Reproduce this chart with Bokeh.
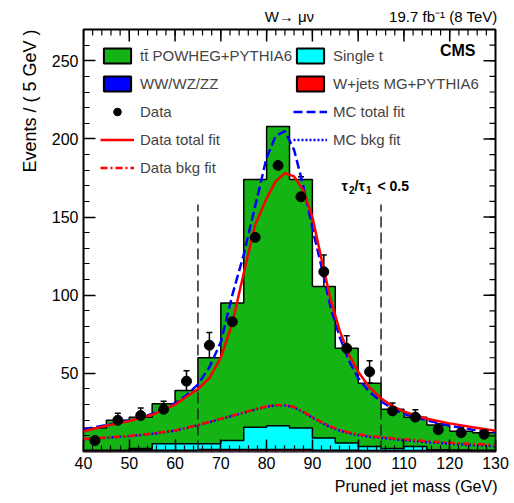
from bokeh.plotting import figure
from bokeh.models import (Range1d, FixedTicker, Label, Legend, LegendItem, Title,
                          Whisker, TeeHead, ColumnDataSource)
from bokeh.embed import file_html
from bokeh.resources import INLINE

# ---------------- data ----------------
bin_edges = [40, 45, 50, 55, 60, 65, 70, 75, 80, 85, 90, 95, 100, 105, 110, 115, 120, 125, 130]
wjets      = [0.3, 0.3, 0.5, 0.5, 0.5, 1.0, 1.0, 1.0, 1.0, 1.0, 0.5, 0.5, 0.5, 0.5, 0.5, 0.3, 0.3, 0.3]
diboson    = [0.2, 0.2, 1.0, 0.3, 0.3, 0.3, 0.3, 0.3, 0.3, 0.3, 0.3, 0.3, 0.2, 0.2, 0.2, 0.2, 0.2, 0.2]
single_top = [0.3, 0.3, 0.5, 4.2, 4.2, 3.7, 5.7, 14.2, 15.2, 13.7, 7.9, 4.7, 2.5, 1.3, 2.5, 0.7, 0.5, 0.3]
ttbar      = [14.2, 19.2, 20.0, 25.5, 34.0, 55.0, 88.0, 158.5, 191.5, 159.0, 96.8, 60.5, 40.4, 25.0, 18.8, 15.8, 12.0, 11.2]

data_counts = [7, 20, 23, 27, 45, 68, 83, 137, 183, 163, 115, 66, 51, 26, 22, 14, 12, 11]
data_errors = [2.6, 4.5, 4.8, 5.2, 6.7, 8.2, 9.1, 11.7, 13.5, 12.8, 10.7, 8.1, 7.1, 5.1, 4.7, 3.7, 3.5, 3.3]

fit_x          = [40, 45, 50, 55, 60, 62.5, 65, 67.5, 70, 72.5, 75, 77.5, 80, 82, 84, 86, 88, 90, 92, 94, 96, 98, 100, 102.5, 105, 107.5, 110, 115, 120, 125, 130]
data_total_fit = [13, 16.5, 19.5, 23.5, 30, 35, 40, 47, 60, 82, 114, 145, 162, 173, 178, 176, 167, 150, 123, 97, 77, 62, 51, 41, 34, 29, 25.5, 21, 18, 15.5, 13.3]
mc_total_fit   = [14, 17, 20, 24, 31, 36, 43, 54, 70, 100, 126, 157, 188, 202, 205, 193, 170, 143, 118, 92, 73, 58, 47, 38, 32, 27.5, 24, 20, 16.5, 14, 12.3]

bkg_x        = [40, 45, 50, 55, 60, 65, 70, 75, 78, 80, 82, 84, 86, 88, 90, 92, 94, 96, 98, 100, 102.5, 105, 110, 115, 120, 125, 130]
data_bkg_fit = [8, 9, 10, 11.5, 13.5, 17, 21, 25, 27.5, 28.8, 29.8, 29.8, 28.5, 25.5, 22, 18.8, 16, 13.8, 12.2, 11, 10, 9.3, 7.8, 6.6, 5.6, 4.8, 4.1]
mc_bkg_fit   = [7.8, 8.8, 9.8, 11.3, 13.3, 16.8, 20.8, 24.8, 27.3, 28.6, 29.5, 29.5, 28.2, 25.2, 21.6, 18.4, 15.6, 13.3, 11.7, 10.5, 9.4, 8.7, 7.2, 6.0, 5.0, 4.1, 3.3]

window_edges = [65, 105]
window_top = 158

x_ticks = [40, 50, 60, 70, 80, 90, 100, 110, 120, 130]
y_ticks = [50, 100, 150, 200, 250]
x_minor = list(range(40, 131, 2))
y_minor = list(range(10, 271, 10))
X_MIN, X_MAX, Y_MIN, Y_MAX = 40, 130, 0.01, 270

GREEN = "#14b414"
CYAN = "#00ffff"
BLUE = "#0000ff"
RED = "#ff0000"
FONT = "Liberation Sans"
NAN = float("nan")

# ---------------- geometry (page px) ----------------
FL, FR, FT, FB = 83, 495, 28, 451
W, H = 514, 503
FW, FH = FR - FL, FB - FT
PX_X = FW / (X_MAX - X_MIN)
PX_Y = FH / (Y_MAX - Y_MIN)

p = figure(width=W, height=H, x_range=Range1d(X_MIN, X_MAX), y_range=Range1d(Y_MIN, Y_MAX),
           output_backend="svg", toolbar_location=None,
           min_border_left=FL, min_border_right=W - FR,
           min_border_top=FT, min_border_bottom=H - FB)
p.xgrid.visible = False
p.ygrid.visible = False
p.outline_line_color = "black"
p.outline_line_width = 2
p.background_fill_color = "white"
p.border_fill_color = "white"

TICK_MAJ, TICK_MIN = 12, 6


def style_axis(ax, ticks, minor):
    ax.ticker = FixedTicker(ticks=ticks, minor_ticks=minor)
    ax.axis_line_color = None
    ax.major_tick_in = TICK_MAJ
    ax.major_tick_out = 0
    ax.minor_tick_in = TICK_MIN
    ax.minor_tick_out = 0
    ax.major_tick_line_width = 1.5
    ax.minor_tick_line_width = 1.2
    ax.major_tick_line_color = "black"
    ax.minor_tick_line_color = "black"
    ax.major_label_text_font = FONT
    ax.major_label_text_color = "black"
    ax.major_label_text_font_size = "16px"
    ax.major_label_standoff = 5


style_axis(p.xaxis[0], x_ticks, x_minor)
style_axis(p.yaxis[0], y_ticks, y_minor)


def steps(edges, vals):
    xs, ys = [], []
    for i, v in enumerate(vals):
        xs += [edges[i], edges[i + 1]]
        ys += [v, v]
    return xs, ys


n = len(ttbar)
lvl1 = [wjets[i] for i in range(n)]
lvl2 = [lvl1[i] + diboson[i] for i in range(n)]
lvl3 = [lvl2[i] + single_top[i] for i in range(n)]
lvl4 = [lvl3[i] + ttbar[i] for i in range(n)]

for lvl, col in [(lvl4, GREEN), (lvl3, CYAN), (lvl2, BLUE), (lvl1, RED)]:
    xs, ys = steps(bin_edges, lvl)
    p.varea(x=xs, y1=[0] * len(xs), y2=ys, fill_color=col)
    p.line(x=[xs[0]] + xs + [xs[-1]], y=[0] + ys + [0], line_color="black", line_width=1.5)

# mirrored ticks on top and right edges (inside the frame)
p.segment(x0=x_ticks, x1=x_ticks, y0=[Y_MAX] * len(x_ticks),
          y1=[Y_MAX - TICK_MAJ / PX_Y] * len(x_ticks), line_color="black", line_width=1.5)
p.segment(x0=x_minor, x1=x_minor, y0=[Y_MAX] * len(x_minor),
          y1=[Y_MAX - TICK_MIN / PX_Y] * len(x_minor), line_color="black", line_width=1.2)
p.segment(x0=[X_MAX] * len(y_ticks), x1=[X_MAX - TICK_MAJ / PX_X] * len(y_ticks),
          y0=y_ticks, y1=y_ticks, line_color="black", line_width=1.5)
p.segment(x0=[X_MAX] * len(y_minor), x1=[X_MAX - TICK_MIN / PX_X] * len(y_minor),
          y0=y_minor, y1=y_minor, line_color="black", line_width=1.2)

# cut window lines
for xe in window_edges:
    p.line(x=[xe, xe], y=[0, window_top], line_color="#222222", line_width=1.5, line_dash="11 5")

# fits
r_mc_bkg = p.line(bkg_x, mc_bkg_fit, line_color=BLUE, line_width=2.5, line_dash="2 2")
r_data_bkg = p.line(bkg_x, data_bkg_fit, line_color=RED, line_width=2.5, line_dash="7 3 2 3")
r_mc_tot = p.line(fit_x, mc_total_fit, line_color=BLUE, line_width=2.5, line_dash="9 4")
r_data_tot = p.line(fit_x, data_total_fit, line_color=RED, line_width=2.5)

# data
centers = [(bin_edges[i] + bin_edges[i + 1]) / 2 for i in range(n)]
src = ColumnDataSource(dict(x=centers, y=data_counts,
                            upper=[data_counts[i] + data_errors[i] for i in range(n)],
                            lower=[data_counts[i] - data_errors[i] for i in range(n)]))
p.add_layout(Whisker(source=src, base="x", upper="upper", lower="lower", dimension="height",
                     line_color="black", line_width=1.5,
                     upper_head=TeeHead(size=6, line_width=1.5, line_color="black"),
                     lower_head=TeeHead(size=6, line_width=1.5, line_color="black")))
r_data = p.scatter("x", "y", source=src, size=10, color="black")


# legend proxies (one NaN row each: nothing drawn in the plot, box drawn in the legend)
def proxy(col):
    return p.quad(left=[NAN], right=[NAN], top=[NAN], bottom=[NAN],
                  fill_color=col, line_color="black", line_width=2)


r_tt, r_st, r_vv, r_wj = proxy(GREEN), proxy(CYAN), proxy(BLUE), proxy(RED)

ROW_H, ROW_GAP, LEG_TOP = 20, 8, 45


def make_legend(items, left_px):
    rows = len(items)
    bottom_px = LEG_TOP + rows * ROW_H + (rows - 1) * ROW_GAP
    lg = Legend(items=[LegendItem(label=t, renderers=[r]) for t, r in items],
                location=(left_px - FL, FB - bottom_px),
                orientation="vertical", glyph_width=34, glyph_height=19, label_standoff=6,
                spacing=ROW_GAP, padding=0, margin=0, border_line_color=None, background_fill_alpha=0,
                label_text_font=FONT, label_text_font_size="15px", label_height=ROW_H,
                label_text_baseline="middle")
    p.add_layout(lg)


make_legend([("tt\u0304 POWHEG+PYTHIA6", r_tt), ("WW/WZ/ZZ", r_vv), ("Data", r_data),
             ("Data total fit", r_data_tot), ("Data bkg fit", r_data_bkg)], 100)
make_legend([("Single t", r_st), ("W+jets MG+PYTHIA6", r_wj), ("MC total fit", r_mc_tot),
             ("MC bkg fit", r_mc_bkg)], 293)


def put(txt, px, py, size, align="left", bold=False, baseline="middle"):
    p.add_layout(Label(x=px - FL, y=FB - py, x_units="screen", y_units="screen", text=txt,
                       text_font=FONT, text_font_size=f"{size}px",
                       text_font_style="bold" if bold else "normal",
                       text_align=align, text_baseline=baseline, text_color="black"))


put("CMS", 475, 50, 16, align="right", bold=True)

# tau2/tau1 < 0.5 with real subscripts
TB, SB = 185, 189
put("\u03c4", 341, TB, 14, bold=True, baseline="alphabetic")
put("2", 348.5, SB, 10, bold=True, baseline="alphabetic")
put("/", 354, TB, 14, bold=True, baseline="alphabetic")
put("\u03c4", 358, TB, 14, bold=True, baseline="alphabetic")
put("1", 365.5, SB, 10, bold=True, baseline="alphabetic")
put("< 0.5", 377, TB, 14, bold=True, baseline="alphabetic")

# texts outside the frame, as side-panel titles
p.add_layout(Title(text="W\u2192 \u03bc\u03bd" + "\u2003" * 5 + "19.7 fb\u207b\u00b9 (8 TeV)",
                   align="right", offset=-2, standoff=10, text_font=FONT, text_font_size="15px",
                   text_font_style="normal", text_color="black"), "above")
p.add_layout(Title(text="Pruned jet mass (GeV)", align="right", offset=-2, standoff=9,
                   text_font=FONT, text_font_size="16px", text_font_style="normal",
                   text_color="black"), "below")
p.add_layout(Title(text="Events / ( 5 GeV )", align="right", standoff=18,
                   text_font=FONT, text_font_size="18px", text_font_style="normal",
                   text_color="black"), "left")

open("out.html", "w").write(file_html(p, INLINE))
